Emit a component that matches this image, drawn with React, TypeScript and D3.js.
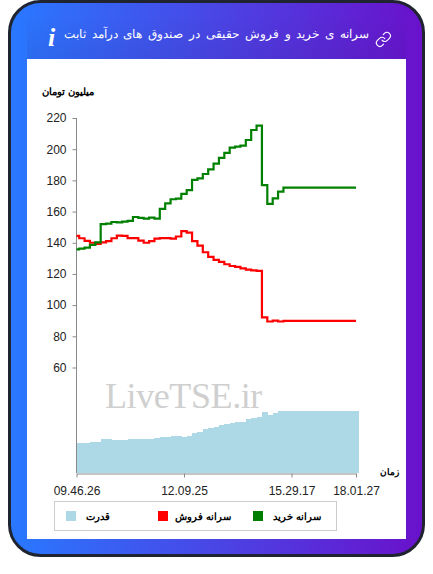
import { useEffect, useRef } from 'react';
import * as d3 from 'd3';

// one sample per slot
const buyPerCapita = [
  135.8, 136.2, 136.9, 138.6, 140.3, 152.0, 152.3, 153.3, 153.1, 153.5, 154.0, 156.5, 155.9, 155.5,
  156.1, 155.5, 161.7, 165.3, 167.9, 168.3, 171.3, 173.8, 180.3, 181.3, 184.1, 187.1, 190.7, 194.4,
  197.6, 201.0, 201.6, 202.3, 205.9, 212.3, 215.1, 177.0, 164.9, 168.5, 172.8, 175.3, 175.3, 175.3,
  175.3, 175.3, 175.3, 175.3, 175.3, 175.3, 175.3, 175.3, 175.3, 175.3, 175.3,
];
const sellPerCapita = [
  144.4, 142.9, 141.2, 140.0, 139.2, 140.3, 141.0, 142.9, 144.6, 144.4, 143.0, 143.0, 141.4, 140.0,
  141.0, 142.7, 143.0, 143.0, 142.7, 144.0, 147.4, 146.5, 141.0, 138.2, 133.9, 130.9, 129.0, 127.7,
  126.2, 125.1, 124.5, 123.6, 122.8, 122.3, 122.0, 92.2, 89.5, 90.1, 89.5, 89.9, 89.9, 89.9, 89.9,
  89.9, 89.9, 89.9, 89.9, 89.9, 89.9, 89.9, 89.9, 89.9, 89.9,
];
const power = [
  47.8, 48.4, 48.9, 49.5, 50.5, 54.3, 54.3, 53.8, 53.2, 53.8, 54.3, 54.8, 55.4, 55.4, 54.8, 55.9,
  57.5, 58.6, 59.7, 59.1, 58.6, 60.2, 65.0, 66.7, 71.0, 72.0, 74.7, 77.4, 78.5, 80.1, 81.7, 82.8,
  86.6, 88.2, 89.8, 97.8, 93.0, 96.2, 99.5, 100, 100, 100, 100, 100, 100, 100, 100, 100, 100, 100,
  100, 100, 100,
];

const xTickSlots = [0, 20, 40, 52];
const xTickLabels = ['09.46.26', '12.09.25', '15.29.17', '18.01.27'];
const yTicks = [60, 80, 100, 120, 140, 160, 180, 200, 220];

const legendItems = [
  { label: 'سرانه خرید', color: 'green' },
  { label: 'سرانه فروش', color: 'red' },
  { label: 'قدرت', color: 'lightblue' },
];

const title = 'سرانه ی خرید و فروش حقیقی در صندوق های درآمد ثابت';
const AXIS_COLOR = '#8a8a8a';
const ARABIC_FONT = 'sans-serif';

export default function App() {
  const svgRef = useRef<SVGSVGElement>(null);

  useEffect(() => {
    if (!svgRef.current) return;
    const svg = d3.select(svgRef.current);
    svg.selectAll('*').remove();

    // Card
    const defs = svg.append('defs');
    const grad = defs.append('linearGradient').attr('id', 'cardGrad');
    grad.append('stop').attr('offset', '0%').attr('stop-color', '#2979ff');
    grad.append('stop').attr('offset', '100%').attr('stop-color', '#6a11cb');
    const shade = defs.append('linearGradient').attr('id', 'headShade')
      .attr('x1', 0).attr('y1', 0).attr('x2', 0).attr('y2', 1);
    shade.append('stop').attr('offset', '0%').attr('stop-color', '#201060').attr('stop-opacity', 0.01);
    shade.append('stop').attr('offset', '100%').attr('stop-color', '#201060').attr('stop-opacity', 0.09);

    svg.append('rect')
      .attr('x', 9.5).attr('y', 1.5)
      .attr('width', 414).attr('height', 554)
      .attr('rx', 31)
      .attr('fill', 'url(#cardGrad)')
      .attr('stroke', '#1f2430')
      .attr('stroke-width', 3);

    svg.append('rect')
      .attr('x', 27).attr('y', 18)
      .attr('width', 379).attr('height', 41)
      .attr('fill', 'url(#headShade)');

    svg.append('rect')
      .attr('x', 27).attr('y', 59)
      .attr('width', 379).attr('height', 480)
      .attr('fill', '#fff');

    // Header
    svg.append('text')
      .attr('x', 369).attr('y', 38)
      .attr('direction', 'rtl')
      .attr('fill', '#fff')
      .attr('font-family', ARABIC_FONT)
      .attr('font-size', 12.35)
      .attr('word-spacing', 2.4)
      .text(title);

    svg.append('text')
      .attr('x', 48).attr('y', 46)
      .attr('fill', '#fff')
      .attr('font-family', '"Liberation Serif", serif')
      .attr('font-style', 'italic')
      .attr('font-weight', 700)
      .attr('font-size', 26)
      .text('i');

    const link = svg.append('g')
      .attr('transform', 'translate(375,31) scale(0.7)')
      .attr('fill', 'none')
      .attr('stroke', '#fff')
      .attr('stroke-width', 1.6)
      .attr('stroke-linecap', 'round');
    link.append('path').attr('d', 'M10 13a5 5 0 0 0 7.54.54l3-3a5 5 0 0 0-7.07-7.07l-1.72 1.71');
    link.append('path').attr('d', 'M14 11a5 5 0 0 0-7.54-.54l-3 3a5 5 0 0 0 7.07 7.07l1.71-1.71');

    // Scales
    const xScale = d3.scaleLinear().domain([0, 52]).range([76.5, 356]);
    const yScale = d3.scaleLinear().domain([60, 220]).range([367.5, 118]);
    const powerScale = d3.scaleLinear().domain([0, 100]).range([473, 411]);
    const slot = xScale(1) - xScale(0);

    // Power bars, overlapped a little so no seams show
    svg.append('g')
      .attr('shape-rendering', 'crispEdges')
      .selectAll('rect')
      .data(power)
      .enter()
      .append('rect')
      .attr('x', (_, i) => Math.max(xScale(0), xScale(i) - slot / 2))
      .attr('y', d => powerScale(d))
      .attr('width', (_, i) => (i === 0 ? slot / 2 + 0.6 : i === power.length - 1 ? slot : slot + 0.6))
      .attr('height', d => powerScale(0) - powerScale(d))
      .attr('fill', 'lightblue');

    // Watermark
    svg.append('text')
      .attr('x', 105).attr('y', 408)
      .attr('fill', '#cfcfcf')
      .attr('font-family', '"Liberation Serif", serif')
      .attr('font-size', 36)
      .attr('letter-spacing', -0.4)
      .text('LiveTSE.ir');

    // Axes
    const yAxis = svg.append('g')
      .attr('transform', `translate(${xScale(0)},0)`)
      .call(d3.axisLeft(yScale).tickValues(yTicks).tickSize(4).tickPadding(6).tickSizeOuter(0));
    yAxis.select('.domain').attr('d', 'M0,118V473');

    const xAxis = svg.append('g')
      .attr('transform', 'translate(0,473.5)')
      .call(
        d3.axisBottom(xScale)
          .tickValues(xTickSlots)
          .tickFormat((_, i) => xTickLabels[i])
          .tickSize(4)
          .tickPadding(9)
          .tickSizeOuter(0)
      );

    [yAxis, xAxis].forEach(axis => {
      axis.select('.domain').attr('stroke', AXIS_COLOR);
      axis.selectAll('.tick line').attr('stroke', AXIS_COLOR);
      axis.selectAll('.tick text')
        .attr('fill', '#222')
        .attr('font-size', 12)
        .attr('font-family', '"Liberation Sans", Arial, sans-serif');
    });

    // Lines
    const line = d3.line<number>()
      .x((_, i) => xScale(i))
      .y(d => yScale(d))
      .curve(d3.curveStep);

    [
      { values: sellPerCapita, color: 'red' },
      { values: buyPerCapita, color: 'green' },
    ].forEach(s => {
      svg.append('path')
        .attr('d', line(s.values))
        .attr('fill', 'none')
        .attr('stroke', s.color)
        .attr('stroke-width', 2.2);
    });

    // Axis titles
    svg.append('text')
      .attr('x', 94).attr('y', 95)
      .attr('direction', 'rtl')
      .attr('font-family', ARABIC_FONT)
      .attr('font-weight', 700)
      .attr('font-size', 10.4)
      .text('میلیون تومان');

    svg.append('text')
      .attr('x', 399).attr('y', 475)
      .attr('direction', 'rtl')
      .attr('font-family', ARABIC_FONT)
      .attr('font-weight', 700)
      .attr('font-size', 9.4)
      .text('زمان');

    // Legend
    svg.append('rect')
      .attr('x', 54.5).attr('y', 501.5)
      .attr('width', 282).attr('height', 29)
      .attr('fill', 'none')
      .attr('stroke', '#ccc');

    const legendX = d3.scaleOrdinal<string, number>()
      .domain(legendItems.map(d => d.label))
      .range([253, 158, 66]);
    const legendTextEnd = d3.scaleOrdinal<string, number>()
      .domain(legendItems.map(d => d.label))
      .range([68, 73, 44]);

    const legend = svg.append('g')
      .selectAll('g')
      .data(legendItems)
      .enter()
      .append('g')
      .attr('transform', d => `translate(${legendX(d.label)},511)`);

    legend.append('rect')
      .attr('width', 10).attr('height', 10)
      .attr('fill', d => d.color);

    legend.append('text')
      .attr('x', d => legendTextEnd(d.label))
      .attr('y', 9)
      .attr('direction', 'rtl')
      .attr('font-family', ARABIC_FONT)
      .attr('font-weight', 700)
      .attr('font-size', 9.6)
      .text(d => d.label);
  }, []);

  return (
    <svg
      ref={svgRef}
      width={433}
      height={574}
      style={{ position: 'absolute', left: 0, top: 0, display: 'block' }}
    />
  );
}
